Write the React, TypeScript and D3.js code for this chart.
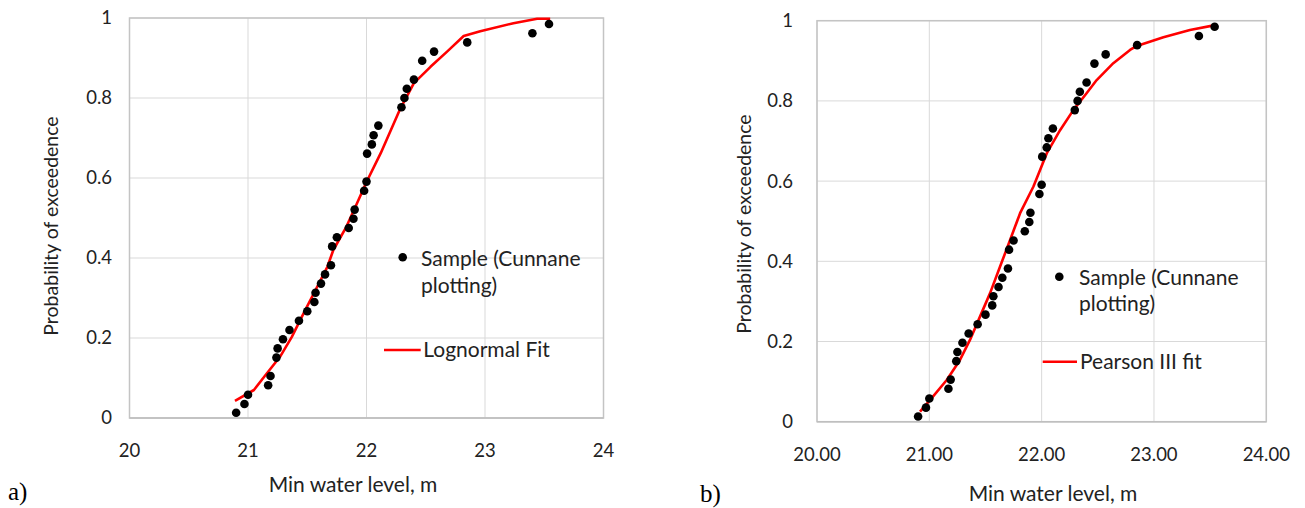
import React from 'react';
import * as d3 from 'd3';

// Sample (Cunnane plotting positions)
const sampleLevels = [20.90, 20.97, 21.00, 21.17, 21.19, 21.24, 21.25, 21.295, 21.35, 21.43, 21.50, 21.56, 21.57, 21.616, 21.65, 21.70, 21.71, 21.75, 21.85, 21.89, 21.90, 21.98, 22.00, 22.005, 22.045, 22.06, 22.10, 22.295, 22.32, 22.34, 22.40, 22.47, 22.57, 22.85, 23.40, 23.54];
const sampleProbs = [0.013, 0.035, 0.058, 0.082, 0.105, 0.151, 0.174, 0.197, 0.220, 0.243, 0.267, 0.290, 0.313, 0.336, 0.359, 0.382, 0.429, 0.452, 0.475, 0.498, 0.521, 0.568, 0.591, 0.661, 0.684, 0.707, 0.731, 0.777, 0.800, 0.823, 0.846, 0.893, 0.916, 0.939, 0.962, 0.985];

// Lognormal fit (panel a)
const lognormLevels = [20.89, 21.05, 21.16, 21.27, 21.37, 21.47, 21.57, 21.67, 21.72, 21.83, 21.92, 22.00, 22.12, 22.28, 22.40, 22.54, 22.68, 22.82, 22.96, 23.24, 23.44, 23.55];
const lognormProbs = [0.043, 0.07, 0.112, 0.153, 0.203, 0.262, 0.32, 0.378, 0.42, 0.478, 0.537, 0.59, 0.662, 0.77, 0.837, 0.878, 0.916, 0.955, 0.967, 0.987, 0.998, 0.998];

// Pearson III fit (panel b)
const pearsonLevels = [20.917, 21.006, 21.155, 21.273, 21.362, 21.451, 21.54, 21.63, 21.719, 21.808, 21.926, 22.045, 22.164, 22.282, 22.40, 22.49, 22.638, 22.787, 22.847, 23.084, 23.32, 23.544];
const pearsonProbs = [0.025, 0.054, 0.104, 0.154, 0.204, 0.262, 0.32, 0.387, 0.453, 0.52, 0.586, 0.669, 0.727, 0.777, 0.819, 0.852, 0.894, 0.927, 0.937, 0.959, 0.977, 0.989];

const xTicks = [20, 21, 22, 23, 24];
const yTicks = [0, 0.2, 0.4, 0.6, 0.8, 1];

const xTitle = 'Min water level, m';
const yTitle = 'Probability of exceedence';
const sampleLabel = ['Sample (Cunnane', 'plotting)'];

const FONT = 'Lato, "Open Sans", sans-serif';
const TEXT = '#222';

type PanelProps = {
  x0: number; x1: number; y0: number; y1: number;
  fitX: number[]; fitP: number[];
  fitLabel: string;
  xFmt: (v: number) => string;
  yLabelRight: number;
  xTitleX: number; xTitleY: number;
  yTitleX: number; yTitleY: number;
  leg: { dotX: number; dotY: number; textX: number; line1: number; line2: number; lineX0: number; lineX1: number; lineY: number; fitTextX: number; };
  letter: string; letterX: number; letterY: number;
};

function Panel(p: PanelProps) {
  const x = d3.scaleLinear().domain([20, 24]).range([p.x0, p.x1]);
  const y = d3.scaleLinear().domain([0, 1]).range([p.y0, p.y1]);
  const fit = p.fitX.map((v, i) => [v, p.fitP[i]] as [number, number]);
  const line = d3.line<[number, number]>().x(d => x(d[0])).y(d => y(d[1]));
  return (
    <g>
      {yTicks.map(t => (
        <line key={'gy' + t} x1={p.x0} x2={p.x1} y1={y(t)} y2={y(t)} stroke="#d9d9d9" strokeWidth={1} />
      ))}
      {xTicks.map(t => (
        <line key={'gx' + t} x1={x(t)} x2={x(t)} y1={p.y0} y2={p.y1} stroke="#d9d9d9" strokeWidth={1} />
      ))}
      <rect x={p.x0} y={p.y1} width={p.x1 - p.x0} height={p.y0 - p.y1} fill="none" stroke="#c4c4c4" strokeWidth={1.5} />
      <line x1={p.x0} x2={p.x1} y1={p.y0} y2={p.y0} stroke="#bfbfbf" strokeWidth={1.5} />
      <path d={line(fit) || ''} fill="none" stroke="#ff0000" strokeWidth={2.6} strokeLinejoin="round" />
      {sampleLevels.map((v, i) => (
        <circle key={'pt' + i} cx={x(v)} cy={y(sampleProbs[i])} r={4.3} fill="#000" />
      ))}
      {yTicks.map(t => (
        <text key={'ty' + t} x={p.yLabelRight} y={y(t)} dy="0.35em" textAnchor="end" fontSize={18.5} fontFamily={FONT} fill={TEXT}>{String(t)}</text>
      ))}
      {xTicks.map(t => (
        <text key={'tx' + t} x={x(t)} y={p.y0 + 33} dy="0.35em" textAnchor="middle" fontSize={18.5} fontFamily={FONT} fill={TEXT}>{p.xFmt(t)}</text>
      ))}
      <text x={p.xTitleX} y={p.xTitleY} textAnchor="middle" fontSize={21} fontFamily={FONT} fill={TEXT}>{xTitle}</text>
      <text transform={`translate(${p.yTitleX},${p.yTitleY}) rotate(-90)`} textAnchor="middle" fontSize={19.5} fontFamily={FONT} fill={TEXT}>{yTitle}</text>
      <circle cx={p.leg.dotX} cy={p.leg.dotY} r={4.3} fill="#000" />
      <text x={p.leg.textX} y={p.leg.line1} fontSize={21} fontFamily={FONT} fill={TEXT}>{sampleLabel[0]}</text>
      <text x={p.leg.textX} y={p.leg.line2} fontSize={21} fontFamily={FONT} fill={TEXT}>{sampleLabel[1]}</text>
      <line x1={p.leg.lineX0} x2={p.leg.lineX1} y1={p.leg.lineY} y2={p.leg.lineY} stroke="#ff0000" strokeWidth={2.6} />
      <text x={p.leg.fitTextX} y={p.leg.lineY} dy="0.35em" fontSize={21} fontFamily={FONT} fill={TEXT}>{p.fitLabel}</text>
      <text x={p.letterX} y={p.letterY} fontSize={25} fontFamily='"Liberation Serif", "Times New Roman", serif' fill="#000">{p.letter}</text>
    </g>
  );
}

export default function App() {
  return (
    <svg width={1305} height={508} style={{ position: 'absolute', left: 0, top: 0, background: '#fff' }}>
      <rect width={1305} height={508} fill="#fff" />
      <Panel
        x0={129.5} x1={603.5} y0={418} y1={18}
        fitX={lognormLevels} fitP={lognormProbs} fitLabel="Lognormal Fit"
        xFmt={v => String(v)}
        yLabelRight={112}
        xTitleX={353} xTitleY={492}
        yTitleX={58} yTitleY={226}
        leg={{ dotX: 402.7, dotY: 257.3, textX: 421, line1: 266, line2: 293, lineX0: 384, lineX1: 420.7, lineY: 350, fitTextX: 423.3 }}
        letter="a)" letterX={8} letterY={500}
      />
      <Panel
        x0={817} x1={1266.3} y0={421.7} y1={20.7}
        fitX={pearsonLevels} fitP={pearsonProbs} fitLabel="Pearson III fit"
        xFmt={v => v.toFixed(2)}
        yLabelRight={793}
        xTitleX={1053} xTitleY={501}
        yTitleX={751} yTitleY={224}
        leg={{ dotX: 1059.3, dotY: 276.7, textX: 1079, line1: 284.5, line2: 311, lineX0: 1042.7, lineX1: 1077, lineY: 361.7, fitTextX: 1080 }}
        letter="b)" letterX={700} letterY={502}
      />
    </svg>
  );
}
